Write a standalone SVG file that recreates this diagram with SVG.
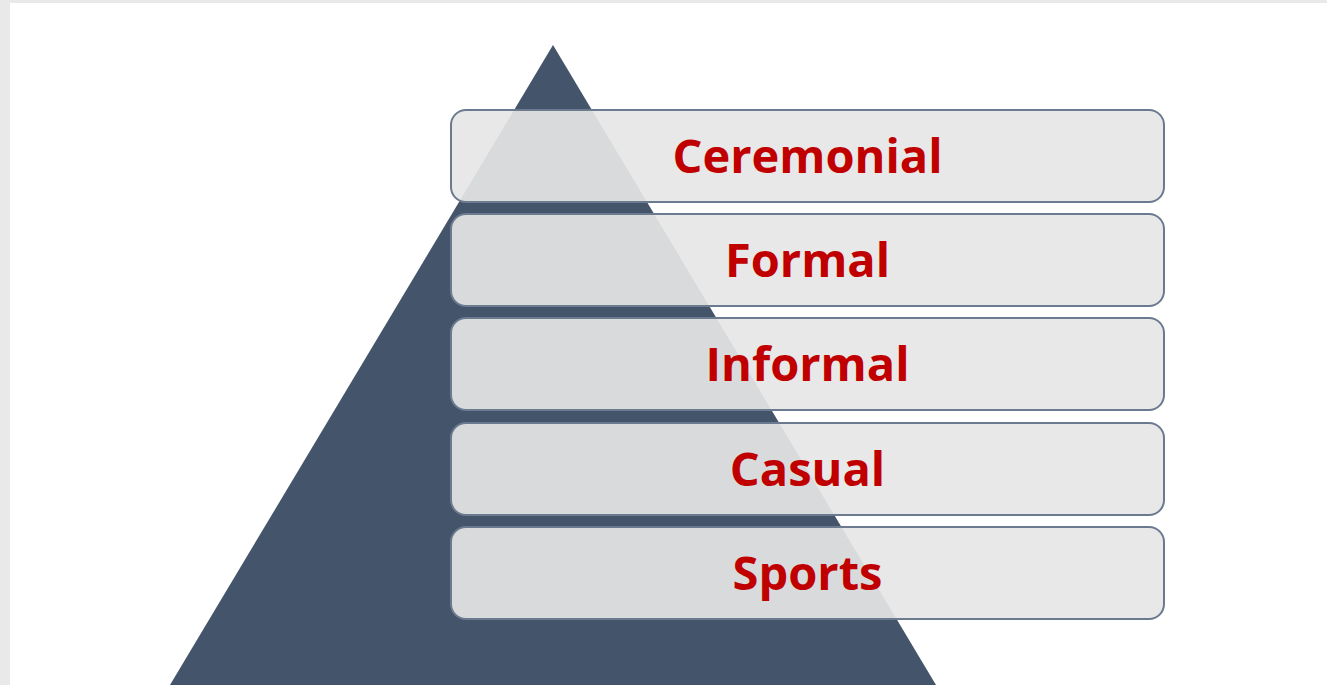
<svg xmlns="http://www.w3.org/2000/svg" width="1327" height="685" viewBox="0 0 1327 685">
  <style>
    .box { fill: #E6E6E6; fill-opacity: 0.92; stroke: #6B7A8F; stroke-width: 2; }
    .lbl { font-family: "Open Sans", "Liberation Sans", sans-serif; font-weight: bold; font-size: 47px; fill: #C00000; text-anchor: middle; }
  </style>
  <rect x="0" y="0" width="1327" height="685" fill="#E9E9E9"/>
  <rect x="10" y="3" width="1317" height="682" fill="#FFFFFF"/>
  <g id="pyramid">
    <polygon points="553,45 161,700 945,700" fill="#44546A"/>
  </g>
  <g id="connectors"></g>
  <g id="ceremonial">
    <rect class="box" x="451" y="110" width="713" height="92" rx="15"/>
    <text class="lbl" x="807.5" y="173">Ceremonial</text>
  </g>
  <g id="formal">
    <rect class="box" x="451" y="214" width="713" height="92" rx="15"/>
    <text class="lbl" x="807.5" y="277">Formal</text>
  </g>
  <g id="informal">
    <rect class="box" x="451" y="318" width="713" height="92" rx="15"/>
    <text class="lbl" x="807.5" y="381">Informal</text>
  </g>
  <g id="casual">
    <rect class="box" x="451" y="423" width="713" height="92" rx="15"/>
    <text class="lbl" x="807.5" y="486">Casual</text>
  </g>
  <g id="sports">
    <rect class="box" x="451" y="527" width="713" height="92" rx="15"/>
    <text class="lbl" x="807.5" y="590">Sports</text>
  </g>
</svg>
